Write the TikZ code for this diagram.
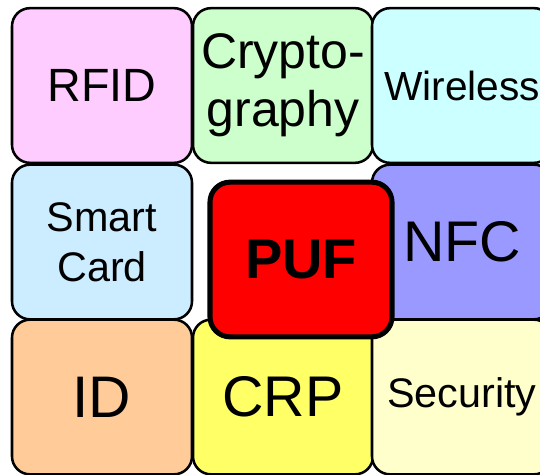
\documentclass[tikz,border=0pt]{standalone}
\usepackage{fontspec}
\setmainfont{Liberation Sans}
\definecolor{rfidpink}{HTML}{FFCCFF}
\definecolor{cryptogreen}{HTML}{CCFFCC}
\definecolor{wirelesscyan}{HTML}{CCFFFF}
\definecolor{cardblue}{HTML}{CCECFF}
\definecolor{nfcviolet}{HTML}{9999FF}
\definecolor{idorange}{HTML}{FFCC99}
\definecolor{crpyellow}{HTML}{FFFF66}
\definecolor{secyellow}{HTML}{FFFFCC}
\tikzstyle{topic} = [draw, line width=1.9pt, rounded corners=13.5pt, minimum width=135pt, minimum height=116pt, inner sep=0pt, align=center]
\tikzstyle{core} = [draw, line width=3.8pt, rounded corners=15pt, minimum width=136.5pt, minimum height=116pt, inner sep=0pt, align=center, fill=red]

\begin{document}
\begin{tikzpicture}[x=0.75pt, y=-0.75pt]
   \clip (0, 0) rectangle (540, 475);
   % outer ring of topics
   \node (RFID) at (102, 85.5) [topic, fill=rfidpink, font=\fontsize{35pt}{40pt}\selectfont] {RFID};
   \node (Crypto) at (283, 85.5) [topic, fill=cryptogreen, font=\fontsize{37.5pt}{43.5pt}\selectfont] {Crypto-\\graphy};
   \node (Wireless) at (462, 85.5) [topic, fill=wirelesscyan, font=\fontsize{30.5pt}{36pt}\selectfont] {Wireless};

   \node (SmartCard) at (102, 242) [topic, fill=cardblue, font=\fontsize{31pt}{37.5pt}\selectfont] {Smart\\Card};
   \node (NFC) at (462, 242) [topic, fill=nfcviolet, font=\fontsize{43pt}{48pt}\selectfont] {NFC};

   \node (ID) at (102, 397) [topic, fill=idorange, font=\fontsize{44pt}{50pt}\selectfont] {ID};
   \node (CRP) at (283, 397) [topic, fill=crpyellow, font=\fontsize{43pt}{48pt}\selectfont] {CRP};
   \node (Security) at (462, 397) [topic, fill=secyellow, font=\fontsize{31pt}{36pt}\selectfont] {Security};

   % the center
   \node (PUF) at (301, 259.5) [core, font=\fontsize{42pt}{48pt}\selectfont\bfseries] {PUF};
\end{tikzpicture}
\end{document}
